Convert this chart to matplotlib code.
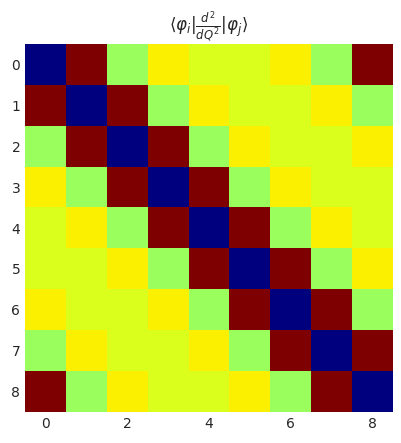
import matplotlib
matplotlib.use('Agg')
import matplotlib.pyplot as plt
import numpy as np

# values by cyclic distance |i-j| (0..4)
dist_values = [-6.67, 4.02, -0.93, 0.33, -0.09]
n = 9

mat = np.zeros((n, n))
for i in range(n):
    for j in range(n):
        d = abs(i - j)
        d = min(d, n - d)
        mat[i, j] = dist_values[d]

fig, ax = plt.subplots(figsize=(4.02, 4.43), dpi=100)
ax.imshow(mat, cmap='jet', interpolation='nearest')
ax.set_title(r'$\langle \varphi_i | \frac{d^2}{dQ^2} | \varphi_j \rangle$', fontsize=12, color='#262626')
ax.set_xticks([0, 2, 4, 6, 8])
ax.set_yticks(range(n))
for s in ax.spines.values():
    s.set_visible(False)
ax.tick_params(length=0, labelsize=10, colors='#262626')
plt.subplots_adjust(left=0.06, right=0.98, top=0.9, bottom=0.07)
plt.savefig('out.png', dpi=100)
